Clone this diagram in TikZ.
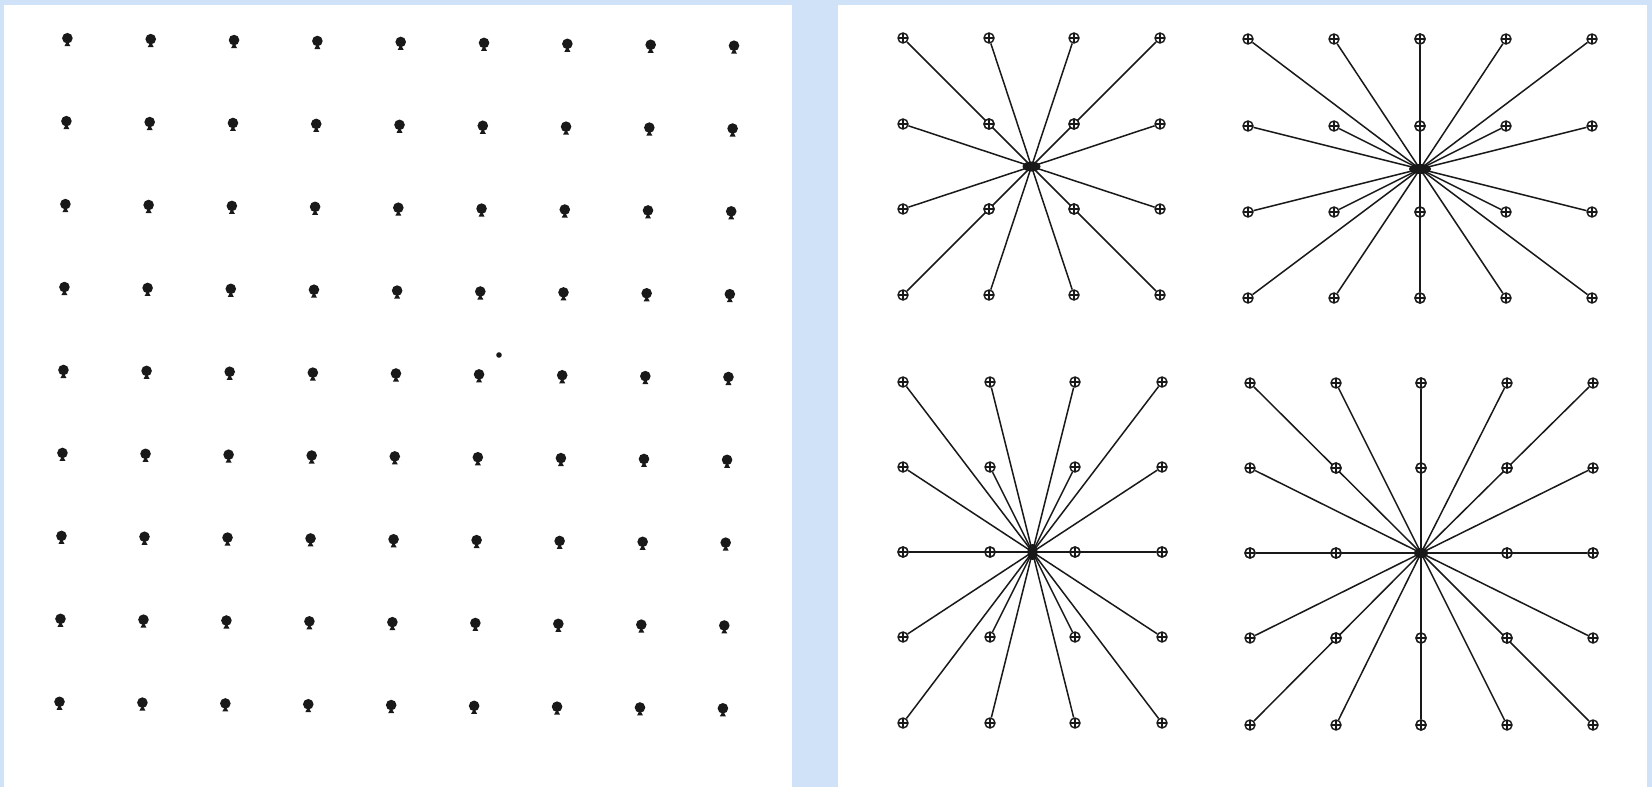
\documentclass[tikz,border=0pt]{standalone}
\usetikzlibrary{calc}
\definecolor{bgblue}{RGB}{208,226,248}
\definecolor{ink}{RGB}{25,25,25}
\tikzset{
  mk/.style={circle,draw=ink,line width=1.4pt,inner sep=0pt,minimum size=10pt,fill=white,
    path picture={\draw[ink,line width=1.4pt]
      (path picture bounding box.north) -- (path picture bounding box.south)
      (path picture bounding box.west) -- (path picture bounding box.east);}},
  ray/.style={ink,line width=1.5pt},
  hub/.style={ink},
  spade/.pic={
    \fill[ink] (0,-1) circle (5.3);
    \fill[ink] (-3,7) -- (3,7) -- (0,1.5) -- cycle;
  }
}
\begin{document}
\begin{tikzpicture}[x=1pt,y=-1pt]
\useasboundingbox (0,0) rectangle (1652,787);
\fill[bgblue] (0,0) rectangle (1652,787);
\fill[white] (4,5) rectangle (792,787);
\fill[white] (838,5) rectangle (1647,787);

% left panel: 9x9 grid of spade dots
\foreach \i in {0,...,8}{
  \foreach \j in {0,...,8}{
    \pgfmathsetmacro{\u}{\i/8}
    \pgfmathsetmacro{\v}{\j/8}
    \pgfmathsetmacro{\px}{(1-\v)*((1-\u)*67.4+\u*734)+\v*((1-\u)*59.5+\u*722.9)}
    \pgfmathsetmacro{\py}{(1-\u)*((1-\v)*39.2+\v*702.8)+\u*((1-\v)*46.7+\v*709.3)}
    \pic (s-\i-\j) at (\px,\py) {spade};
  }
}
\fill[ink] (499,355) circle (2.8);

% right panel: four stars
% top-left: 4 cols x 4 rows
\coordinate (tlc) at (1031.5,166.5);
\foreach \x [count=\i] in {903,989,1074,1160}{
  \foreach \y [count=\j] in {38,124,209,295}{
    \node[mk] (tl-\i-\j) at (\x,\y) {};
  }
}
\foreach \i/\j in {1/1,2/1,3/1,4/1,1/2,4/2,1/3,4/3,1/4,2/4,3/4,4/4}{
  \draw[ray] (tlc) -- (tl-\i-\j);
}
\foreach \i/\j in {2/2,3/2,2/3,3/3}{
  \node[mk] at (tl-\i-\j) {};
}
\fill[hub] (tlc) ellipse (9 and 5);

% top-right: 5 cols x 4 rows
\coordinate (trc) at (1420,169);
\foreach \x [count=\i] in {1248,1334,1420,1506,1592}{
  \foreach \y [count=\j] in {39,126,212,298}{
    \node[mk] (tr-\i-\j) at (\x,\y) {};
  }
}
\foreach \i in {1,2,4,5}{
  \foreach \j in {1,2,3,4}{
    \draw[ray] (trc) -- (tr-\i-\j);
  }
}
\draw[ray] (tr-3-1) -- (tr-3-4);
\foreach \j in {1,2,3,4}{ \node[mk] at (tr-3-\j) {}; }
\fill[hub] (trc) ellipse (11 and 5);

% bottom-left: 4 cols x 5 rows
\coordinate (blc) at (1032.5,552);
\foreach \x [count=\i] in {903,990,1075,1162}{
  \foreach \y [count=\j] in {382,467,552,637,723}{
    \node[mk] (bl-\i-\j) at (\x,\y) {};
  }
}
\foreach \i in {1,2,3,4}{
  \foreach \j in {1,2,4,5}{
    \draw[ray] (blc) -- (bl-\i-\j);
  }
}
\draw[ray] (bl-1-3) -- (bl-4-3);
\foreach \i in {1,2,3,4}{ \node[mk] at (bl-\i-3) {}; }
\fill[hub] (blc) ellipse (5 and 8);

% bottom-right: 5 cols x 5 rows
\coordinate (brc) at (1421,553);
\foreach \x [count=\i] in {1250,1336,1421,1507,1593}{
  \foreach \y [count=\j] in {383,468,553,638,725}{
    \ifnum\i=3 \ifnum\j=3 \else \node[mk] (br-\i-\j) at (\x,\y) {}; \fi
    \else \node[mk] (br-\i-\j) at (\x,\y) {}; \fi
  }
}
\foreach \i/\j in {1/1,2/1,4/1,5/1,1/2,5/2,1/4,5/4,1/5,2/5,4/5,5/5}{
  \draw[ray] (brc) -- (br-\i-\j);
}
\draw[ray] (br-3-1) -- (br-3-5);
\draw[ray] (br-1-3) -- (br-5-3);
\foreach \i/\j in {3/1,3/2,3/4,3/5,1/3,2/3,4/3,5/3,2/2,4/2,2/4,4/4}{
  \node[mk] at (br-\i-\j) {};
}
\fill[hub] (brc) ellipse (7 and 5);
\end{tikzpicture}
\end{document}
